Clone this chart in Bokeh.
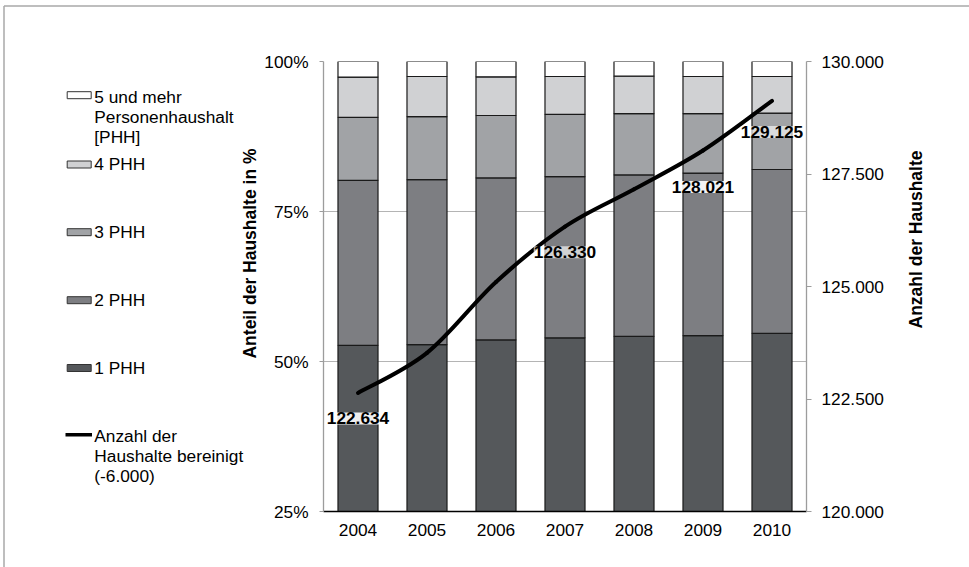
import numpy as np
from bokeh.plotting import figure
from bokeh.models import Range1d, LinearAxis, FixedTicker, ColumnDataSource, LabelSet, Div
from bokeh.layouts import row
from bokeh.core.properties import value
from bokeh.embed import file_html
from bokeh.resources import INLINE

# ---- data -----------------------------------------------------------------
years = ["2004", "2005", "2006", "2007", "2008", "2009", "2010"]

# share of households by size, in percent (stacked bottom to top)
share_1phh = [52.7, 52.8, 53.6, 53.95, 54.2, 54.3, 54.7]
share_2phh = [27.5, 27.5, 27.0, 26.85, 26.9, 27.1, 27.3]
share_3phh = [10.5, 10.5, 10.4, 10.4, 10.2, 9.9, 9.4]
share_4phh = [6.7, 6.7, 6.45, 6.3, 6.25, 6.2, 6.1]
share_5phh = [2.6, 2.5, 2.55, 2.5, 2.45, 2.5, 2.5]

# number of households, adjusted (-6.000)
households = [122634, 123525, 125100, 126330, 127160, 128021, 129125]
labelled_years = [0, 3, 5, 6]

pct_ticks = [25, 50, 75, 100]
count_ticks = [120000, 122500, 125000, 127500, 130000]

series_names = ["1 PHH", "2 PHH", "3 PHH", "4 PHH",
                "5 und mehr\nPersonenhaushalt\n[PHH]"]
line_name = "Anzahl der\nHaushalte bereinigt\n(-6.000)"
left_title = "Anteil der Haushalte in %"
right_title = "Anzahl der Haushalte"

# ---- styling ----------------------------------------------------------------
FONT = "Liberation Sans"
FS = "17.3px"
colors = ["#55585b", "#7d7e82", "#a1a3a6", "#d0d1d3", "#ffffff"]
bar_edge = "#1a1a1a"
axis_gray = "#9c9c9c"
frame_gray = "#a8a8a8"

# page geometry of the shared plot frame (all panels share it in the row)
H = 567
FRAME_TOP, FRAME_BOTTOM = 61, 511
MB_TOP = FRAME_TOP
MB_BOTTOM = H - FRAME_BOTTOM
LEFT_PAD = 5
LEGEND_RIGHT = 261
MAIN_RIGHT = 900


def de_number(v):
    return f"{int(round(v)):,}".replace(",", ".")


# ---- main chart -------------------------------------------------------------
n = len(years)
xs = list(range(n))
src = ColumnDataSource(dict(x=xs, s1=share_1phh, s2=share_2phh, s3=share_3phh,
                            s4=share_4phh, s5=share_5phh))

p = figure(width=MAIN_RIGHT - LEGEND_RIGHT, height=H, x_range=Range1d(-0.5, n - 0.5),
           y_range=Range1d(25, 100), output_backend="svg", toolbar_location=None,
           min_border_left=321 - LEGEND_RIGHT, min_border_right=MAIN_RIGHT - 806,
           min_border_top=MB_TOP, min_border_bottom=MB_BOTTOM)
p.outline_line_color = None
p.background_fill_color = None
p.border_fill_color = None
p.extra_y_ranges = {"count": Range1d(120000, 130000)}

p.vbar_stack(["s1", "s2", "s3", "s4", "s5"], x="x", width=0.58, source=src,
             fill_color=colors, line_color=bar_edge, line_width=1.2)

# smoothed household line: cubic bezier pieces through the yearly values
hx = np.array(xs, dtype=float)
hy = np.array(households, dtype=float)
px = np.concatenate([[hx[0]], hx, [hx[-1]]])
py = np.concatenate([[hy[0]], hy, [hy[-1]]])
x0, y0 = hx[:-1], hy[:-1]
x1, y1 = hx[1:], hy[1:]
cx0 = x0 + (px[2:-1] - px[0:-3]) / 6.0
cy0 = y0 + (py[2:-1] - py[0:-3]) / 6.0
cx1 = x1 - (px[3:] - px[1:-2]) / 6.0
cy1 = y1 - (py[3:] - py[1:-2]) / 6.0
p.bezier(x0=x0, y0=y0, x1=x1, y1=y1, cx0=cx0, cy0=cy0, cx1=cx1, cy1=cy1,
         line_color="black", line_width=4, line_cap="round",
         y_range_name="count")

# value labels under the line
label_drop = [31.5, 31.5, 42.5, 37.0]
label_alpha = [0.9, 0.65, 0.9, 0.62]
lab_src = ColumnDataSource(dict(
    x=[xs[i] for i in labelled_years],
    y=[households[i] for i in labelled_years],
    text=[de_number(households[i]) for i in labelled_years],
    dy=[-d for d in label_drop],
    a=label_alpha,
))
p.add_layout(LabelSet(x="x", y="y", text="text", source=lab_src,
                      y_range_name="count", y_offset="dy",
                      text_align="center", text_baseline="alphabetic",
                      text_font=value(FONT), text_font_size=FS,
                      text_font_style="bold", text_color="black",
                      background_fill_color="white", background_fill_alpha="a"))

# x axis
xa = p.xaxis[0]
xa.ticker = FixedTicker(ticks=xs)
xa.major_label_overrides = {i: y for i, y in enumerate(years)}
xa.axis_line_color = "black"
xa.axis_line_width = 1.5
xa.major_tick_in = 0
xa.major_tick_out = 0
xa.minor_tick_line_color = None
xa.major_label_standoff = 12
xa.major_label_text_font = FONT
xa.major_label_text_font_size = FS
xa.major_label_text_color = "black"

# left axis (percent)
ya = p.yaxis[0]
ya.ticker = FixedTicker(ticks=pct_ticks)
ya.major_label_overrides = {t: f"{t}%" for t in pct_ticks}
ya.axis_line_color = axis_gray
ya.axis_line_width = 1.3
ya.major_tick_line_color = axis_gray
ya.major_tick_in = 0
ya.major_tick_out = 4
ya.minor_tick_line_color = None
ya.major_label_standoff = 11
ya.major_label_text_font = FONT
ya.major_label_text_font_size = FS
ya.major_label_text_color = "black"

# right axis (households)
ra = LinearAxis(y_range_name="count", ticker=FixedTicker(ticks=count_ticks))
ra.major_label_overrides = {t: de_number(t) for t in count_ticks}
ra.axis_line_color = axis_gray
ra.axis_line_width = 1.3
ra.major_tick_line_color = axis_gray
ra.major_tick_in = 0
ra.major_tick_out = 5
ra.minor_tick_line_color = None
ra.major_label_standoff = 10
ra.major_label_text_font = FONT
ra.major_label_text_font_size = FS
ra.major_label_text_color = "black"
p.add_layout(ra, "right")

p.xgrid.visible = False
p.ygrid.ticker = FixedTicker(ticks=[50, 75, 100])
p.ygrid.grid_line_color = "#b4b4b4"
p.ygrid.grid_line_width = 1


def side_panel(x_start, x_end):
    # panel whose frame shares the main frame's rows; data units are page pixels
    f = figure(width=x_end - x_start, height=H,
               x_range=Range1d(x_start, x_end),
               y_range=Range1d(FRAME_BOTTOM, FRAME_TOP),
               output_backend="svg", toolbar_location=None,
               min_border_left=0, min_border_right=0,
               min_border_top=MB_TOP, min_border_bottom=MB_BOTTOM,
               x_axis_type=None, y_axis_type=None)
    f.outline_line_color = None
    f.background_fill_color = None
    f.border_fill_color = None
    f.grid.visible = False
    return f


# ---- legend panel -------------------------------------------------------------
lg = side_panel(LEFT_PAD, LEGEND_RIGHT)

swatch_y = [367.5, 299.7, 231.7, 164.0, 94.7]
text_mid = [367.5, 299.5, 231.5, 163.5, 96.0]
line_gap = 20
lg.rect(x=[78.7] * 5, y=swatch_y, width=24, height=7, fill_color=colors,
        line_color="#333333", line_width=1)
tx, ty, tt = [], [], []
for name, mid in zip(series_names, text_mid):
    for k, part in enumerate(name.split("\n")):
        tx.append(93.8)
        ty.append(mid + k * line_gap)
        tt.append(part)
for k, part in enumerate(line_name.split("\n")):
    tx.append(93.8)
    ty.append(435.8 + k * line_gap)
    tt.append(part)
lg.segment(x0=[65], y0=[434.3], x1=[91.5], y1=[434.3], line_color="black",
           line_width=3.5)
lg.text(x=tx, y=ty, text=tt, text_font=value(FONT), text_font_size=FS,
        text_baseline="middle", text_align="left", text_color="black")
lg.text(x=[249.5], y=[253], text=[left_title], angle=np.pi / 2,
        text_font=value(FONT), text_font_size="17.5px", text_font_style="bold",
        text_align="center", text_baseline="middle", text_color="black")

# ---- right title panel -------------------------------------------------------
rp = side_panel(MAIN_RIGHT, 969)
rp.text(x=[915.5], y=[239], text=[right_title], angle=np.pi / 2,
        text_font=value(FONT), text_font_size="17.5px", text_font_style="bold",
        text_align="center", text_baseline="middle", text_color="black")

# ---- thin grey frame lines along the top and left edge -------------------------
# (drawn behind the transparent panels, spanning the whole width)
edge = Div(width=LEFT_PAD, height=H, margin=0, styles={"overflow": "visible"}, text=(
    f'<svg width="969" height="{H}" style="display:block;overflow:visible">'
    f'<line x1="4" y1="6" x2="969" y2="6" stroke="{frame_gray}" stroke-width="1.5"/>'
    f'<line x1="4" y1="6" x2="4" y2="{H}" stroke="{frame_gray}" stroke-width="1.5"/>'
    '</svg>'))

layout = row(edge, lg, p, rp)
open("out.html", "w").write(file_html(layout, INLINE))
